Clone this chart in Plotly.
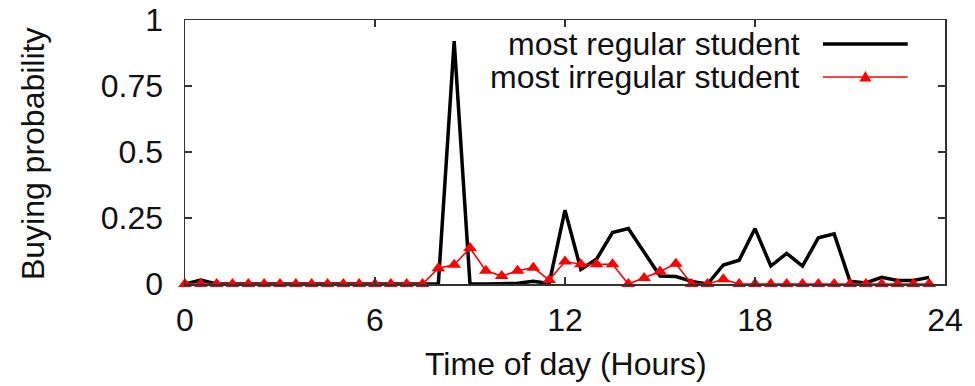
import plotly.graph_objects as go

hours = [0.0, 0.5, 1.0, 1.5, 2.0, 2.5, 3.0, 3.5, 4.0, 4.5, 5.0, 5.5,
         6.0, 6.5, 7.0, 7.5, 8.0, 8.5, 9.0, 9.5, 10.0, 10.5, 11.0, 11.5,
         12.0, 12.5, 13.0, 13.5, 14.0, 14.5, 15.0, 15.5, 16.0, 16.5, 17.0, 17.5,
         18.0, 18.5, 19.0, 19.5, 20.0, 20.5, 21.0, 21.5, 22.0, 22.5, 23.0, 23.5]

regular = [0.0, 0.015, 0.0, 0.0, 0.0, 0.0, 0.0, 0.0, 0.0, 0.0, 0.0, 0.0,
           0.0, 0.0, 0.0, 0.0, 0.0, 0.92, 0.0, 0.0, 0.0, 0.003, 0.01, 0.002,
           0.28, 0.055, 0.095, 0.195, 0.21, 0.12, 0.03, 0.028, 0.01, 0.0, 0.072, 0.09,
           0.21, 0.068, 0.116, 0.068, 0.175, 0.19, 0.01, 0.004, 0.025, 0.013, 0.013, 0.025]

irregular = [0.0, 0.0, 0.0, 0.0, 0.0, 0.0, 0.0, 0.0, 0.0, 0.0, 0.0, 0.0,
             0.0, 0.0, 0.0, 0.0, 0.06, 0.073, 0.136, 0.05, 0.03, 0.05, 0.062, 0.015,
             0.085, 0.075, 0.075, 0.075, 0.0, 0.023, 0.047, 0.077, 0.0, 0.0, 0.018, 0.0,
             0.0, 0.0, 0.0, 0.0, 0.0, 0.0, 0.0, 0.0, 0.0, 0.0, 0.0, 0.0]

series_names = ["most regular student", "most irregular student"]
x_ticks = [0, 6, 12, 18, 24]
x_ticktext = ["0", "6", "12", "18", "24"]
y_ticks = [0, 0.25, 0.5, 0.75, 1]
y_ticktext = ["0", "0.25", "0.5", "0.75", "1"]
x_title = "Time of day (Hours)"
y_title = "Buying probability"

FONT = "Liberation Sans, Arial, Helvetica, sans-serif"
FS = 32
AX = "#333333"
TXT = "#111111"

fig = go.Figure()
fig.add_trace(go.Scatter(x=hours, y=regular, mode="lines", name=series_names[0],
                         line=dict(color="black", width=3.5), cliponaxis=False))
fig.add_trace(go.Scatter(x=hours, y=irregular, mode="lines+markers", name=series_names[1],
                         line=dict(color="#ff0000", width=1.6),
                         marker=dict(symbol="triangle-up", size=12, color="#ff0000"),
                         cliponaxis=False))

axis_common = dict(showline=True, linecolor=AX, linewidth=1.5, mirror="ticks",
                   ticks="inside", ticklen=7, tickwidth=1.5, tickcolor=AX,
                   showgrid=False, zeroline=False, automargin=False,
                   tickfont=dict(family=FONT, size=FS, color=TXT))

fig.update_xaxes(range=[0, 24], tickvals=x_ticks, ticktext=x_ticktext,
                 ticklabelstandoff=7, **axis_common)
fig.update_yaxes(range=[0, 1], tickvals=y_ticks, ticktext=y_ticktext,
                 ticklabelstandoff=14, **axis_common)

# axis titles
fig.add_annotation(text=x_title, xref="paper", yref="paper", x=0.501, y=-0.303,
                   xanchor="center", yanchor="middle", showarrow=False,
                   font=dict(family=FONT, size=FS, color=TXT))
fig.add_annotation(text=y_title, xref="paper", yref="paper", x=-0.2, y=0.492,
                   xanchor="center", yanchor="middle", textangle=-90, showarrow=False,
                   font=dict(family=FONT, size=FS, color=TXT))

# gnuplot-style key: text right-aligned, sample to the right
key_text_x = 0.8118
key_rows = [0.909, 0.784]
for name, yy in zip(series_names, key_rows):
    fig.add_annotation(text=name, xref="paper", yref="paper", x=key_text_x, y=yy,
                       xanchor="right", yanchor="middle", showarrow=False,
                       font=dict(family=FONT, size=FS, color=TXT))
fig.add_shape(type="line", xref="paper", yref="paper", x0=0.8395, x1=0.951,
              y0=key_rows[0], y1=key_rows[0], line=dict(color="black", width=3.5))
fig.add_shape(type="line", xref="paper", yref="paper", x0=0.8395, x1=0.951,
              y0=key_rows[1], y1=key_rows[1], line=dict(color="#ff0000", width=1.6))
fig.add_shape(type="path", xref="paper", yref="paper", xsizemode="pixel", ysizemode="pixel",
              xanchor=0.8953, yanchor=key_rows[1],
              path="M -6,-4.5 L 6,-4.5 L 0,6 Z",
              fillcolor="#ff0000", line=dict(color="#ff0000", width=0))

fig.update_layout(width=975, height=386, margin=dict(l=185, r=30, t=20, b=102),
                  paper_bgcolor="white", plot_bgcolor="white", showlegend=False,
                  font=dict(family=FONT, size=FS))

# remove the default page margin so the figure fills the window exactly
fig.write_html("out.html",
               config={"displayModeBar": False, "staticPlot": True},
               post_script="document.body.style.margin='0';"
                           "document.body.style.overflow='hidden';"
                           "document.documentElement.style.overflow='hidden';")
